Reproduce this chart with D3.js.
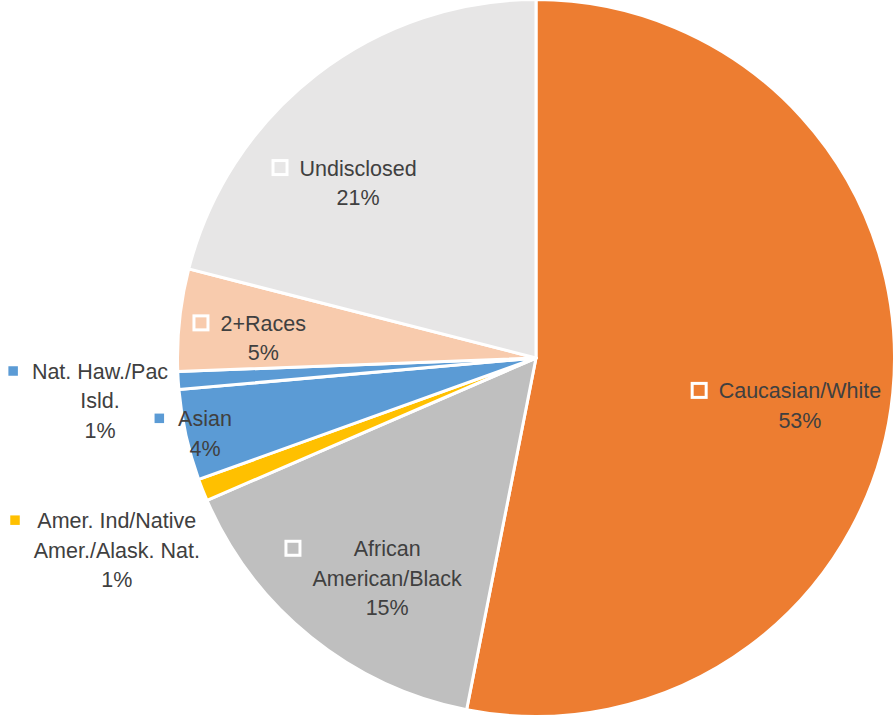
<!DOCTYPE html>
<html>
<head>
<meta charset="utf-8">
<script src="https://cdnjs.cloudflare.com/ajax/libs/d3/7.8.5/d3.min.js"></script>
<style>
  html, body { margin: 0; padding: 0; background: #fff; }
  svg { display: block; }
</style>
</head>
<body>
<div id="chart"></div>
<script>
// data, clockwise from 12 o'clock
var categories = ["Caucasian/White", "African\nAmerican/Black", "Amer. Ind/Native\nAmer./Alask. Nat.",
                  "Asian", "Nat. Haw./Pac\nIsld.", "2+Races", "Undisclosed"];
var values = [53.1, 15.4, 1.0, 4.1, 0.8, 4.6, 21.0];
var pctLabels = ["53%", "15%", "1%", "4%", "1%", "5%", "21%"];
var colors = ["#ED7D31", "#BFBFBF", "#FFC000", "#5B9BD5", "#5B9BD5", "#F8CBAD", "#E7E6E6"];

// label placement: distance from centre (fraction of radius), angle nudge in degrees
var labelK = [0.748, 0.741, 1.286, 0.947, 1.222, 0.763, 0.697];
var labelNudge = [4.6, -4.8, -3.0, -0.4, -2.0, -1.9, -7.6];

var width = 894, height = 721;
var cx = 536, cy = 358, radius = 358.5;
var fontSize = 21.5, lineH = 29.5, capH = 15.5;

var svg = d3.select("#chart").append("svg")
	.attr("width", width)
	.attr("height", height);

var table = categories.map(function(c, i) {
	return {name: c, value: values[i], pct: pctLabels[i], color: colors[i], k: labelK[i], nudge: labelNudge[i]};
});

var pie = d3.pie().sort(null).value(function(d) { return d.value; });
var arc = d3.arc().innerRadius(0).outerRadius(radius);
var arcs = pie(table);

var g = svg.append("g").attr("transform", "translate(" + cx + "," + cy + ")");

g.selectAll("path.slice")
	.data(arcs)
	.enter()
	.append("path")
	.attr("class", "slice")
	.attr("d", arc)
	.attr("fill", function(d) { return d.data.color; })
	.attr("stroke", "#fff")
	.attr("stroke-width", 3)
	.attr("stroke-linejoin", "round");

// data labels with legend keys
arcs.forEach(function(a) {
	var d = a.data;
	var mid = (a.startAngle + a.endAngle) / 2 + d.nudge * Math.PI / 180;
	var dist = d.k * radius;
	var lx = Math.sin(mid) * dist, ly = -Math.cos(mid) * dist;
	var outside = d.k > 1;
	var lines = d.name.split("\n").concat([d.pct]);
	var n = lines.length;

	var lab = g.append("g").attr("class", "label");
	var txt = lab.append("text")
		.attr("text-anchor", "middle")
		.attr("font-family", "'Liberation Sans', Arial, sans-serif")
		.attr("font-size", fontSize)
		.attr("fill", "#404040");
	lines.forEach(function(t, i) {
		txt.append("tspan")
			.attr("x", lx)
			.attr("y", ly - (n - 1) * lineH / 2 + i * lineH + capH / 2)
			.text(t);
	});

	// key sits left of the text block, level with the first line
	var maxW = 0;
	txt.selectAll("tspan").each(function() {
		maxW = Math.max(maxW, this.getComputedTextLength());
	});
	var base0 = ly - (n - 1) * lineH / 2 + capH / 2;
	if (outside || d.value < 4.3) {
		var s = 9.5;
		lab.append("rect")
			.attr("x", lx - maxW / 2 - 14 - s)
			.attr("y", base0 - 8 - s / 2)
			.attr("width", s)
			.attr("height", s)
			.attr("fill", d.color);
	} else {
		var s2 = 14;
		lab.append("rect")
			.attr("x", lx - maxW / 2 - 12.5 - s2)
			.attr("y", base0 - 8 - s2 / 2)
			.attr("width", s2)
			.attr("height", s2)
			.attr("fill", d.color)
			.attr("stroke", "#fff")
			.attr("stroke-width", 3);
	}
});
</script>
</body>
</html>
